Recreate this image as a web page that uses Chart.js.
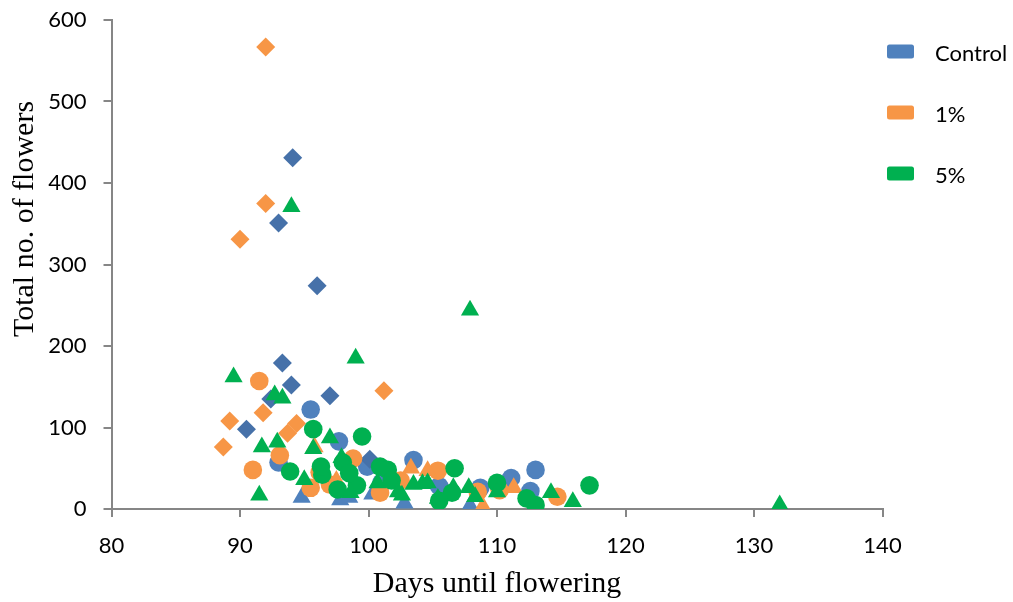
<!DOCTYPE html>
<html><head><meta charset="utf-8">
<script src="https://cdn.jsdelivr.net/npm/chart.js@4.4.1/dist/chart.umd.min.js"></script>
<style>html,body{margin:0;padding:0;background:#fff;}</style>
</head><body>
<canvas id="c" width="1013" height="602"></canvas>
<script>
// ---- data ----
const seriesNames = ['Control', '1%', '5%'];
const xTickValues = [80, 90, 100, 110, 120, 130, 140];
const yTickValues = [0, 100, 200, 300, 400, 500, 600];
const xTitle = 'Days until flowering';
const yTitle = 'Total no. of flowers';

// Control
const ctrlDiamondDays    = [94.1, 93.0, 96.0, 93.3, 94.0, 97.0, 92.4, 90.5, 100.1];
const ctrlDiamondFlowers = [431, 351, 274, 179, 152, 139, 135, 98, 61];
const ctrlCircleDays     = [95.5, 97.7, 93.0, 103.5, 111.1, 113.0, 108.7, 99.9, 101.0, 105.5, 112.6];
const ctrlCircleFlowers  = [122, 83, 57, 60, 38, 48, 26, 52, 32, 28, 22];
const ctrlTriangleDays   = [94.8, 97.8, 102.8, 107.9, 98.5, 100.3, 106.3];
const ctrlTriangleFlowers= [14, 11, 7, 4, 14, 18, 18];

// 1%
const p1DiamondDays      = [92.0, 92.0, 90.0, 101.2, 89.2, 91.8, 94.4, 93.7, 88.7];
const p1DiamondFlowers   = [567, 375, 331, 145, 108, 118, 105, 93, 76];
const p1CircleDays       = [91.5, 91.0, 93.1, 95.5, 98.8, 105.4, 114.7, 110.2, 108.5, 100.9, 97.0, 102.5, 96.2];
const p1CircleFlowers    = [157, 48, 66, 26, 62, 47, 15, 23, 21, 20, 30, 35, 45];
const p1TriangleDays     = [103.3, 104.6, 108.9, 111.3, 95.8, 97.5, 101.8];
const p1TriangleFlowers  = [50, 47, 3, 26, 76, 35, 40];

// 5%
const p5TriangleDays     = [94.0, 107.9, 99.0, 89.5, 92.7, 93.3, 92.9, 91.7, 91.5, 132.0, 115.9, 114.2, 97.0, 95.0, 95.7, 97.9, 100.7, 102.3, 103.5, 104.2, 104.6, 102.6, 105.4, 106.6, 107.8, 108.3, 110.0, 98.6];
const p5TriangleFlowers  = [371, 244, 185, 162, 140, 136, 82, 76, 17, 5, 9, 20, 87, 36, 74, 63, 32, 21, 30, 31, 32, 17, 13, 26, 26, 15, 21, 20];
const p5CircleDays       = [99.5, 95.7, 93.9, 106.7, 117.2, 113.0, 112.3, 110.0, 96.4, 97.6, 100.9, 101.5, 96.3, 98.0, 99.1, 101.8, 98.5, 106.5, 105.5];
const p5CircleFlowers    = [89, 98, 46, 50, 29, 5, 13, 32, 42, 24, 52, 48, 52, 57, 29, 35, 44, 20, 10];

// ---- styling ----
const colors = {
  ctrl: '#4F81BD', ctrlDiamond: '#4671A9',
  p1: '#F79646', p5: '#00B050'
};
const shapeRadius = { rectRot: 9.5, circle: 9.3, triangle: 10.5 };

function buildDataset(label, groups, legendColor, order) {
  const data = [], styles = [], radii = [], fills = [];
  groups.forEach(g => {
    g.days.forEach((d, i) => {
      data.push({ x: d, y: g.flowers[i] });
      styles.push(g.shape);
      radii.push(shapeRadius[g.shape]);
      fills.push(g.color);
    });
  });
  return {
    label, data, order,
    legendColor,
    pointStyle: styles,
    pointRadius: radii,
    pointHoverRadius: radii,
    pointBackgroundColor: fills,
    pointBorderColor: fills,
    pointBorderWidth: 0,
    backgroundColor: legendColor,
    borderColor: legendColor,
    showLine: false
  };
}

const datasets = [
  buildDataset(seriesNames[0], [
    { days: ctrlCircleDays, flowers: ctrlCircleFlowers, shape: 'circle', color: colors.ctrl },
    { days: ctrlTriangleDays, flowers: ctrlTriangleFlowers, shape: 'triangle', color: colors.ctrl },
    { days: ctrlDiamondDays, flowers: ctrlDiamondFlowers, shape: 'rectRot', color: colors.ctrlDiamond }
  ], colors.ctrl, 2),
  buildDataset(seriesNames[1], [
    { days: p1CircleDays, flowers: p1CircleFlowers, shape: 'circle', color: colors.p1 },
    { days: p1TriangleDays, flowers: p1TriangleFlowers, shape: 'triangle', color: colors.p1 },
    { days: p1DiamondDays, flowers: p1DiamondFlowers, shape: 'rectRot', color: colors.p1 }
  ], colors.p1, 1),
  buildDataset(seriesNames[2], [
    { days: p5CircleDays, flowers: p5CircleFlowers, shape: 'circle', color: colors.p5 },
    { days: p5TriangleDays, flowers: p5TriangleFlowers, shape: 'triangle', color: colors.p5 }
  ], colors.p5, 0)
];

const AREA = { left: 111.5, right: 882.5, top: 20, bottom: 509 };
const axisColor = '#868686';
const tickFont = { family: 'Lato', size: 22 };

const overlay = {
  id: 'overlay',
  afterDraw(chart) {
    const ctx = chart.ctx;
    ctx.save();
    // legend
    chart.data.datasets.forEach((ds, i) => {
      const cy = 51.5 + i * 61;
      ctx.fillStyle = ds.legendColor;
      ctx.beginPath();
      if (ctx.roundRect) ctx.roundRect(887, cy - 7, 27, 14, 2.5); else ctx.rect(887, cy - 7, 27, 14);
      ctx.fill();
      ctx.fillStyle = '#000';
      ctx.font = '22px Lato';
      ctx.textAlign = 'left';
      ctx.textBaseline = 'middle';
      ctx.fillText(ds.label, 935, cy + 2);
    });
    // axis titles
    ctx.fillStyle = '#000';
    ctx.font = '30px "Liberation Serif"';
    ctx.textAlign = 'center';
    ctx.textBaseline = 'middle';
    ctx.fillText(xTitle, 497, 584);
    ctx.translate(25, 219);
    ctx.rotate(-Math.PI / 2);
    ctx.fillText(yTitle, 0, 0);
    ctx.restore();
  }
};

new Chart(document.getElementById('c'), {
  type: 'scatter',
  data: { datasets },
  options: {
    responsive: false,
    animation: false,
    events: [],
    layout: { padding: { left: 0, right: 1013 - AREA.right, top: AREA.top, bottom: 0 } },
    plugins: { legend: { display: false }, tooltip: { enabled: false } },
    scales: {
      x: {
        type: 'linear', min: 80, max: 140,
        afterBuildTicks: s => { s.ticks = xTickValues.map(v => ({ value: v })); },
        afterFit: s => { s.height = 602 - AREA.bottom; s.paddingLeft = 0; s.paddingRight = 0; },
        grid: { display: true, drawOnChartArea: false, drawTicks: true, tickLength: 8, color: axisColor, lineWidth: 2 },
        border: { display: true, color: axisColor, width: 2 },
        ticks: { color: '#000', font: tickFont, padding: 16, maxRotation: 0, autoSkip: false }
      },
      y: {
        type: 'linear', min: 0, max: 600,
        afterBuildTicks: s => { s.ticks = yTickValues.map(v => ({ value: v })); },
        afterFit: s => { s.width = AREA.left; s.paddingTop = 0; s.paddingBottom = 0; },
        grid: { display: true, drawOnChartArea: false, drawTicks: true, tickLength: 8, color: axisColor, lineWidth: 2 },
        border: { display: true, color: axisColor, width: 2 },
        ticks: { color: '#000', font: tickFont, padding: 17, autoSkip: false }
      }
    }
  },
  plugins: [overlay]
});
</script>
</body></html>
